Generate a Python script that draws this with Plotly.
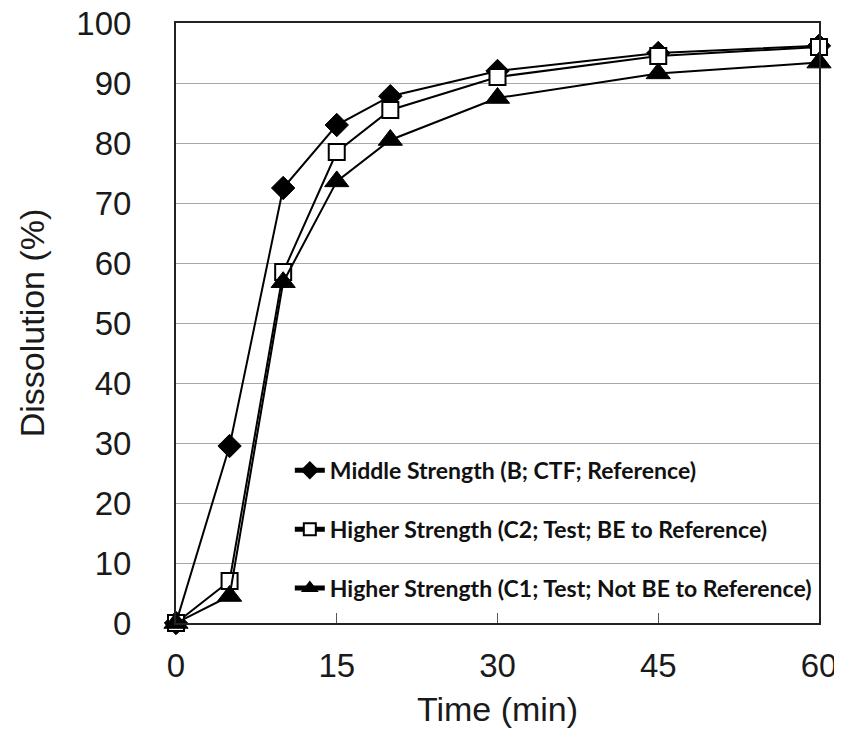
import plotly.graph_objects as go

time_min = [0, 5, 10, 15, 20, 30, 45, 60]
middle_B = [0, 29.5, 72.5, 83, 87.8, 92, 95, 96.2]
higher_C2 = [0, 7, 58.5, 78.5, 85.5, 91, 94.5, 96]
higher_C1 = [0, 4.5, 56.8, 73.6, 80.5, 87.5, 91.6, 93.4]

names = [
    "Middle Strength (B; CTF; Reference)",
    "Higher Strength (C2; Test; BE to Reference)",
    "Higher Strength (C1; Test; Not BE to Reference)",
]
x_ticks = [0, 15, 30, 45, 60]
y_ticks = list(range(0, 101, 10))

fig = go.Figure()
series = [
    (middle_B, names[0], dict(symbol="diamond", size=18, color="black", line=dict(color="black", width=1))),
    (higher_C2, names[1], dict(symbol="square", size=16, color="white", line=dict(color="black", width=2))),
    (higher_C1, names[2], dict(symbol="triangle-up", size=21, color="black", line=dict(color="black", width=1))),
]
for i, (ys, nm, mk) in enumerate(series):
    fig.add_trace(go.Scatter(
        x=time_min, y=ys, name=nm, mode="lines+markers",
        line=dict(color="black", width=2), marker=mk, cliponaxis=False,
        legendgroup=f"g{i}",
    ))

# page body has an 8px default margin, so the figure is slightly smaller/shifted
fig.update_layout(
    width=834, height=745,
    margin=dict(l=168, r=23, t=15, b=130),
    plot_bgcolor="white", paper_bgcolor="white",
    font=dict(family="Liberation Sans, Arial", color="#1a1a1a"),
    legend=dict(
        x=0.177, y=0.022, xanchor="left", yanchor="bottom",
        bgcolor="rgba(0,0,0,0)", tracegroupgap=26,
        font=dict(family="Lato", size=23, color="#111", weight="bold"),
        itemsizing="constant",
    ),
)
fig.update_xaxes(
    range=[0, 60], tickvals=x_ticks, ticktext=[str(v) for v in x_ticks],
    showgrid=False, zeroline=False, showline=True, linecolor="#222", linewidth=2,
    mirror=True, ticks="inside", ticklen=10, tickcolor="#555", automargin=False,
    tickfont=dict(size=33), ticklabelstandoff=12, ticklabeloverflow="allow",
    title=dict(text="Time (min)", font=dict(size=34), standoff=15),
)
fig.update_yaxes(
    range=[0, 100], tickvals=y_ticks,
    showgrid=True, gridcolor="#a8a8a8", gridwidth=1, automargin=False,
    zeroline=False, showline=True, linecolor="#222", linewidth=2,
    mirror=True, ticks="", tickfont=dict(size=33), ticklabelstandoff=36,
    ticklabeloverflow="allow",
    title=dict(text="Dissolution (%)", font=dict(size=34), standoff=21),
)
fig.write_html("out.html")
